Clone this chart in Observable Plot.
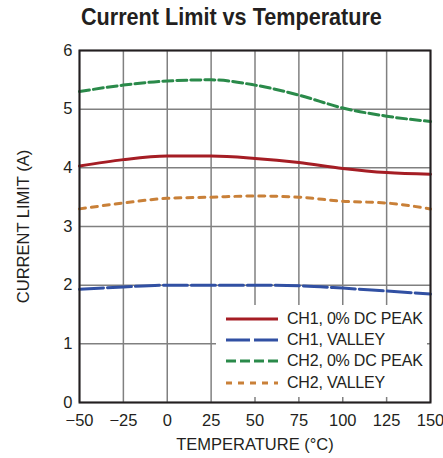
<!DOCTYPE html>
<html><head><meta charset="utf-8">
<script src="https://cdn.jsdelivr.net/npm/d3@7"></script>
<script src="https://cdn.jsdelivr.net/npm/@observablehq/plot@0.6"></script>
<style>
body{margin:0;background:#fff;font-family:"Liberation Sans",Arial,sans-serif;}
#wrap{position:relative;width:443px;height:458px;overflow:hidden;}
#title{position:absolute;left:81px;top:3px;font-size:24px;font-weight:bold;color:#231f20;white-space:nowrap;transform:scaleX(0.9);transform-origin:left top;}
#chart{position:absolute;left:0;top:40px;}
#legend{position:absolute;left:216px;top:305px;width:211px;height:92px;background:#fff;}
.row{position:absolute;left:10px;height:20px;display:flex;align-items:center;font-size:16px;color:#231f20;white-space:nowrap;letter-spacing:-0.2px;}
.row svg{margin-right:9px;}
</style></head>
<body>
<div id="wrap">
<div id="title">Current Limit vs Temperature</div>
<div id="chart"></div>
<div id="legend"></div>
</div>
<script>
const temps = [-50, -25, 0, 25, 50, 75, 100, 125, 150];
const ch1Peak = [4.03, 4.14, 4.2, 4.2, 4.16, 4.09, 3.99, 3.92, 3.89];
const ch1Valley = [1.93, 1.97, 2.0, 2.0, 2.0, 1.99, 1.95, 1.9, 1.85];
const ch2Peak = [5.3, 5.41, 5.48, 5.5, 5.41, 5.24, 5.02, 4.88, 4.79];
const ch2Valley = [3.3, 3.4, 3.48, 3.5, 3.52, 3.5, 3.43, 3.4, 3.3];
const xTicks = [-50, -25, 0, 25, 50, 75, 100, 125, 150];
const yTicks = [0, 1, 2, 3, 4, 5, 6];
const seriesNames = ["CH1, 0% DC PEAK", "CH1, VALLEY", "CH2, 0% DC PEAK", "CH2, VALLEY"];
const seriesColors = ["#a51d24", "#3150a3", "#2a8a4a", "#c98038"];
const seriesDash = [null, "24 4", "10 4", "6 6"];
const seriesValues = [ch1Peak, ch1Valley, ch2Peak, ch2Valley];

const data = [];
seriesValues.forEach((vals, i) => vals.forEach((v, j) => data.push({series: seriesNames[i], t: temps[j], v})));

const lineMarks = seriesNames.map((name, i) =>
  Plot.line(data.filter(d => d.series === name), {
    x: "t", y: "v", stroke: seriesColors[i], strokeWidth: 3,
    strokeDasharray: seriesDash[i], curve: "monotone-x"
  })
);
const fmtX = d => d < 0 ? "\u2212" + Math.abs(d) : String(d);

const chart = Plot.plot({
  width: 443, height: 418,
  marginLeft: 79, marginRight: 13, marginTop: 10, marginBottom: 56,
  style: {fontFamily: '"Liberation Sans",Arial,sans-serif', fontSize: "16px", color: "#231f20", background: "#fff", overflow: "visible"},
  x: {domain: [-50, 150], label: null},
  y: {domain: [0, 6], label: null},
  marks: [
    Plot.gridX(xTicks, {stroke: "#808080", strokeOpacity: 1, strokeWidth: 1.5}),
    Plot.gridY(yTicks, {stroke: "#808080", strokeOpacity: 1, strokeWidth: 1.5}),
    ...lineMarks,
    Plot.frame({stroke: "#231f20", strokeWidth: 2}),
    Plot.axisX({ticks: xTicks, tickSize: 0, tickPadding: 12, tickFormat: fmtX, label: "TEMPERATURE (°C)", labelAnchor: "center", labelArrow: "none", labelOffset: 47, fontSize: 16.5, letterSpacing: "-0.4px"}),
    Plot.axisY({ticks: yTicks, tickSize: 0, tickPadding: 7, tickFormat: d3.format("d"), label: "CURRENT LIMIT (A)", labelAnchor: "center", labelArrow: "none", labelOffset: 62, fontSize: 16.5})
  ]
});
document.getElementById("chart").appendChild(chart);

const leg = document.getElementById("legend");
const rowTops = [4, 25, 46, 68];
seriesNames.forEach((name, i) => {
  const row = document.createElement("div");
  row.className = "row";
  row.style.top = rowTops[i] + "px";
  const dash = seriesDash[i] ? ` stroke-dasharray="${seriesDash[i]}"` : "";
  row.innerHTML = `<svg width="52" height="6"><line x1="0" y1="3" x2="52" y2="3" stroke="${seriesColors[i]}" stroke-width="3"${dash}/></svg><span>${name}</span>`;
  leg.appendChild(row);
});
</script>
</body></html>
